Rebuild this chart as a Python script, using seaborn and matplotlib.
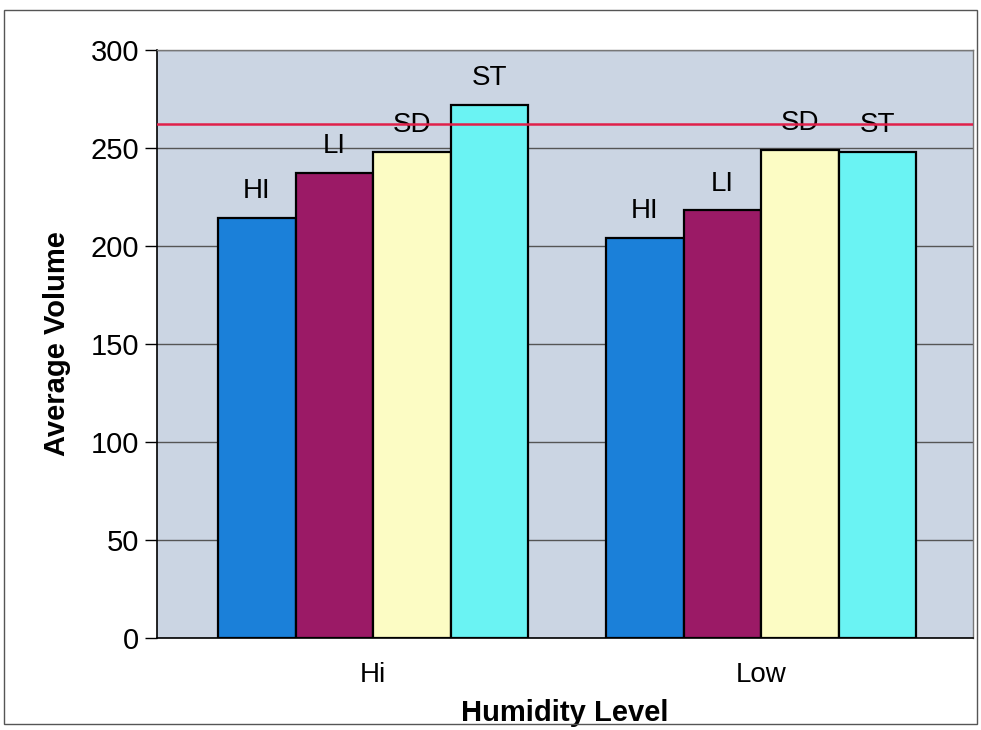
import pandas as pd
import matplotlib.pyplot as plt
import seaborn as sns
from matplotlib.patches import Rectangle

humidity = ['Hi', 'Hi', 'Hi', 'Hi', 'Low', 'Low', 'Low', 'Low']
treatment = ['HI', 'LI', 'SD', 'ST', 'HI', 'LI', 'SD', 'ST']
volume = [214, 237, 248, 272, 204, 218, 249, 248]
treatments = ['HI', 'LI', 'SD', 'ST']
colors = ['#1b80d9', '#9b1a66', '#fcfcc4', '#6af3f3']
ref_line = 262

df = pd.DataFrame({'Humidity': humidity, 'Treatment': treatment, 'Volume': volume})

sns.set_style('white')
plt.rcParams['font.family'] = ['Liberation Sans', 'DejaVu Sans']
plt.rcParams['text.color'] = 'black'
plt.rcParams['axes.labelcolor'] = 'black'
plt.rcParams['xtick.color'] = 'black'
plt.rcParams['ytick.color'] = 'black'

fig = plt.figure(figsize=(9.81, 7.3), dpi=100)
ax = fig.add_axes([0.160, 0.126, 0.832, 0.806])
ax.set_facecolor('#cbd5e3')

sns.barplot(data=df, x='Humidity', y='Volume', hue='Treatment', hue_order=treatments,
            palette=colors, width=0.8, edgecolor='black', linewidth=1.6,
            saturation=1, legend=False, ax=ax)

for cont, name in zip(ax.containers, treatments):
    ax.bar_label(cont, labels=[name] * len(cont), padding=10, fontsize=20)

ax.axhline(ref_line, color='#e0204a', linewidth=1.8, zorder=3)

ax.set_ylim(0, 300)
ax.set_xlim(-0.557, 1.546)
ax.set_yticks(range(0, 301, 50))
ax.yaxis.grid(True, color='#555555', linewidth=1)
ax.set_axisbelow(True)
ax.tick_params(axis='y', labelsize=21, length=9, width=1, direction='out', left=True, pad=4)
ax.tick_params(axis='x', labelsize=20, length=0, pad=17)

for s in ['left', 'bottom']:
    ax.spines[s].set_color('black')
    ax.spines[s].set_linewidth(1.2)
for s in ['top', 'right']:
    ax.spines[s].set_color('#777777')
    ax.spines[s].set_linewidth(1)

ax.set_xlabel('Humidity Level', fontsize=21, fontweight='bold', labelpad=8)
ax.set_ylabel('Average Volume', fontsize=21, fontweight='bold', labelpad=14)

fig.patches.append(Rectangle((0.004, 0.008), 0.992, 0.978, transform=fig.transFigure,
                             fill=False, edgecolor='#555555', linewidth=1))

fig.savefig('out.png', dpi=100)
